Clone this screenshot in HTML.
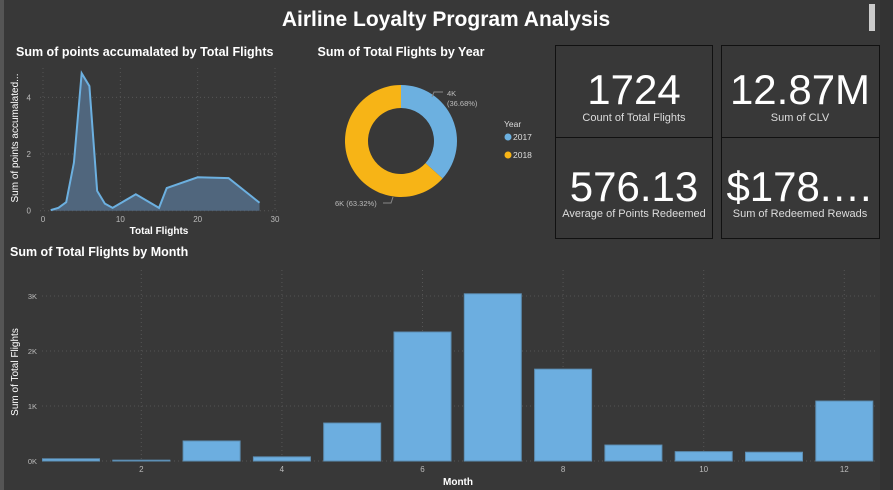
<!DOCTYPE html>
<html><head><meta charset="utf-8"><style>
body{margin:0;background:#383838;width:893px;height:490px;overflow:hidden;font-family:"Liberation Sans",sans-serif;}
svg{display:block}
</style></head><body>
<svg id="dash" width="893" height="490">
<rect x="0" y="0" width="893" height="490" fill="#383838"/>
<rect x="0" y="0" width="4" height="490" fill="#555"/>
<rect x="880" y="0" width="13" height="490" fill="#333"/>
<rect x="869" y="4" width="6" height="27" fill="#ccc"/>
<text x="446" y="26" text-anchor="middle" fill="#fff" font-size="21" font-weight="bold">Airline Loyalty Program Analysis</text>

<text x="16" y="56" fill="#fff" font-size="12.5" font-weight="bold">Sum of points accumalated by Total Flights</text>
<g id="area"></g>

<text x="401" y="56" text-anchor="middle" fill="#fff" font-size="12.5" font-weight="bold">Sum of Total Flights by Year</text>
<g id="donut"></g>

<g>
<rect x="555.5" y="45.5" width="157" height="92" fill="#383838" stroke="#111"/>
<rect x="721.5" y="45.5" width="158" height="92" fill="#383838" stroke="#111"/>
<rect x="555.5" y="137.5" width="157" height="101" fill="#383838" stroke="#111"/>
<rect x="721.5" y="137.5" width="158" height="101" fill="#383838" stroke="#111"/>
<text x="634" y="104" text-anchor="middle" fill="#fff" font-size="42">1724</text>
<text x="634" y="121" text-anchor="middle" fill="#ddd" font-size="11">Count of Total Flights</text>
<text x="800" y="104" text-anchor="middle" fill="#fff" font-size="42">12.87M</text>
<text x="800" y="121" text-anchor="middle" fill="#ddd" font-size="11">Sum of CLV</text>
<text x="634" y="201" text-anchor="middle" fill="#fff" font-size="42">576.13</text>
<text x="634" y="217" text-anchor="middle" fill="#ddd" font-size="11">Average of Points Redeemed</text>
<text x="800" y="201" text-anchor="middle" fill="#fff" font-size="42">$178.…</text>
<text x="800" y="217" text-anchor="middle" fill="#ddd" font-size="11">Sum of Redeemed Rewads</text>
</g>

<text x="10" y="256" fill="#fff" font-size="12.5" font-weight="bold">Sum of Total Flights by Month</text>
<g id="bars"></g>
</svg>
<script>
const areaX=[1,2,3,4,5,6,7,8,9,12,15,16,20,24,28];
const areaY=[0.02,0.1,0.3,1.7,4.85,4.4,0.7,0.25,0.1,0.58,0.1,0.8,1.18,1.15,0.28];
const areaXTicks=[0,10,20,30];
const areaYTicks=[0,2,4];
const donutLabels=["2017","2018"];
const donutValues=[36.68,63.32];
const donutText=["4K","6K"];
const months=[1,2,3,4,5,6,7,8,9,10,11,12];
const flights=[40,15,364,75,690,2345,3040,1670,290,170,160,1090];
const barYTicks=[0,1000,2000,3000];
const barYTickLabels=["0K","1K","2K","3K"];
const barXTicks=[2,4,6,8,10,12];

const NS="http://www.w3.org/2000/svg";
function mk(p,t,a,txt){const e=document.createElementNS(NS,t);for(const k in a)e.setAttribute(k,a[k]);if(txt!==undefined)e.textContent=txt;p.appendChild(e);return e;}

// Area chart
const ag=document.getElementById('area');
const ax=v=>43+v*(275-43)/30, ay=v=>210.7-v*28.33;
areaYTicks.forEach(t=>{
 let l=mk(ag,'line',{x1:40,x2:278,y1:ay(t),y2:ay(t),stroke:'#555','stroke-dasharray':'1,3'});
 
 let tx=mk(ag,'text',{x:31,y:ay(t)+3,'text-anchor':'end',fill:'#bbb','font-size':8},t);
 
});
areaXTicks.forEach(t=>{
 let l=mk(ag,'line',{x1:ax(t),x2:ax(t),y1:68,y2:211,stroke:'#555','stroke-dasharray':'1,3'});
 
 let tx=mk(ag,'text',{x:ax(t),y:222,'text-anchor':'middle',fill:'#bbb','font-size':8},t);
 
});
let pts=areaX.map((x,i)=>ax(x)+','+ay(areaY[i]));
let poly=mk(ag,'polygon',{points:ax(areaX[0])+','+ay(0)+' '+pts.join(' ')+' '+ax(areaX[areaX.length-1])+','+ay(0),fill:'#50667d'});

let pl=mk(ag,'polyline',{points:pts.join(' '),fill:'none',stroke:'#6cb0e0','stroke-width':2});

let axt=mk(ag,'text',{x:159,y:234,'text-anchor':'middle',fill:'#fff','font-size':10,'font-weight':'bold'},'Total Flights');

let ayt=mk(ag,'text',{x:0,y:0,transform:'translate(18,138) rotate(-90)','text-anchor':'middle',fill:'#fff','font-size':10},'Sum  of points accumalated...');


// Donut
const dg=document.getElementById('donut');
const cx=401,cy=141,R=56,r=33,cols=['#6cb0e0','#f7b416'];
const tot=donutValues.reduce((a,b)=>a+b,0);let a0=0;
donutValues.forEach((v,i)=>{
 const a1=a0+v/tot*2*Math.PI;
 const p=(a,rr)=>[cx+rr*Math.sin(a),cy-rr*Math.cos(a)];
 const [x0,y0]=p(a0,R),[x1,y1]=p(a1,R),[x2,y2]=p(a1,r),[x3,y3]=p(a0,r);
 const lg=(a1-a0)>Math.PI?1:0;
 let s=mk(dg,'path',{d:`M${x0},${y0}A${R},${R} 0 ${lg} 1 ${x1},${y1}L${x2},${y2}A${r},${r} 0 ${lg} 0 ${x3},${y3}Z`,fill:cols[i]});
 
 a0=a1;
});
let l1=mk(dg,'text',{x:447,y:96,fill:'#bbb','font-size':7.5},donutText[0]);

let l1b=mk(dg,'text',{x:447,y:106,fill:'#bbb','font-size':7.5},'('+donutValues[0].toFixed(2)+'%)');

let ln1=mk(dg,'polyline',{points:'432,97 434,92 443,92',fill:'none',stroke:'#888'});

let l2=mk(dg,'text',{x:335,y:206,fill:'#bbb','font-size':7.5},donutText[1]+' ('+donutValues[1].toFixed(2)+'%)');

let ln2=mk(dg,'polyline',{points:'383,203 391,203 393,197',fill:'none',stroke:'#888'});

let lt=mk(dg,'text',{x:504,y:127,fill:'#ddd','font-size':8.5},'Year');

donutLabels.forEach((d,i)=>{
 let c=mk(dg,'circle',{cx:508,cy:137+i*18,r:3.5,fill:cols[i]});
 
 let t=mk(dg,'text',{x:513,y:140+i*18,fill:'#ddd','font-size':8.5},d);
 
});

// Bars
const bg=document.getElementById('bars');
const bx=m=>71+(m-1)*70.3, by=v=>461-v*0.055;
barYTicks.forEach((t,i)=>{
 let l=mk(bg,'line',{x1:42,x2:876,y1:by(t),y2:by(t),stroke:'#555','stroke-dasharray':'1,3'});
 
 let tx=mk(bg,'text',{x:37,y:by(t)+3,'text-anchor':'end',fill:'#bbb','font-size':7.5},barYTickLabels[i]);
 
});
barXTicks.forEach(t=>{
 let l=mk(bg,'line',{x1:bx(t),x2:bx(t),y1:270,y2:461,stroke:'#555','stroke-dasharray':'1,3'});
 
 let tx=mk(bg,'text',{x:bx(t),y:472,'text-anchor':'middle',fill:'#bbb','font-size':8},t);
 
});
months.forEach((m,i)=>{
 let b=mk(bg,'rect',{x:bx(m)-28.5,y:by(flights[i]),width:57,height:461-by(flights[i]),fill:'#6caee0',stroke:'#5d8fb5','stroke-width':1});
 
});
let bxt=mk(bg,'text',{x:458,y:485,'text-anchor':'middle',fill:'#fff','font-size':10,'font-weight':'bold'},'Month');

let byt=mk(bg,'text',{x:0,y:0,transform:'translate(18,372) rotate(-90)','text-anchor':'middle',fill:'#fff','font-size':10},'Sum of Total Flights');

</script>
</body></html>
